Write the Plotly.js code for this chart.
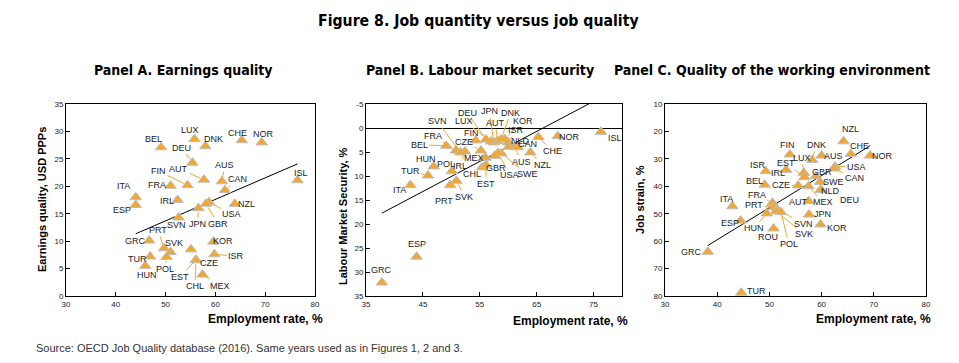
<!DOCTYPE html>
<html><head><meta charset="utf-8">
<script src="https://cdn.plot.ly/plotly-3.0.1.min.js"></script>
<style>html,body{margin:0;padding:0;background:#fff}#chart{width:959px;height:363px}</style>
</head><body><div id="chart"></div>
<script>
// ---------- Panel A: Earnings quality ----------
const countriesA = ["LUX","BEL","DNK","CHE","NOR","DEU","AUS","AUT","FIN","FRA","CAN","ISL","ITA","ESP","IRL","NZL","USA","GBR","JPN","SVN","GRC","KOR","SVK","PRT","ISR","TUR","POL","HUN","CZE","EST","CHL","MEX"];
const employmentA = [55.8,49.1,58.0,65.3,69.3,55.4,61.3,57.7,54.4,51.0,61.9,76.5,44.0,44.0,52.4,63.9,58.7,58.1,56.6,52.6,46.7,59.6,51.0,49.7,59.8,46.9,50.2,45.9,55.1,56.1,56.1,57.4];
const earningsA   = [28.6,27.1,27.3,28.4,28.0,24.3,20.9,21.2,20.2,20.1,19.3,21.1,18.0,16.6,17.5,16.8,17.1,16.8,16.0,14.3,10.1,9.9,8.0,8.7,7.6,7.2,7.1,5.5,8.5,6.6,6.5,3.9];
const trendA = {slope: 0.392, intercept: -5.9};

// ---------- Panel B: Labour market security ----------
const countriesB = ["GRC","ESP","ITA","TUR","HUN","POL","IRL","PRT","SVK","BEL","FRA","SVN","CZE","MEX","FIN","DEU","LUX","JPN","AUT","DNK","KOR","ISR","NLD","AUS","CAN","CHE","NOR","ISL","NZL","SWE","USA","GBR","CHL","EST"];
const employmentB = [37.8,43.9,42.8,45.9,46.9,50.1,52.4,49.8,50.9,49.1,50.8,51.6,55.2,56.0,54.3,56.1,57.0,57.5,58.1,58.7,59.4,60.0,60.1,61.1,61.7,65.3,68.7,76.3,63.9,58.8,58.2,57.6,55.4,56.1];
const securityB   = [32.2,26.8,11.9,9.9,8.0,9.0,4.9,11.9,11.0,3.7,4.7,5.1,4.7,6.2,2.6,2.4,2.8,3.0,2.7,2.4,2.3,3.0,3.9,3.9,4.0,1.9,1.7,0.8,5.1,5.3,5.2,5.8,8.2,7.7];
const trendB = {slope: -0.626, intercept: 41.4};

// ---------- Panel C: Quality of the working environment ----------
const countriesC = ["NZL","CHE","NOR","FIN","DNK","AUS","LUX","EST","ISR","IRL","GBR","USA","CAN","SWE","DEU","NLD","BEL","CZE","MEX","AUT","FRA","ITA","PRT","SVN","SVK","POL","HUN","ROU","JPN","KOR","ESP","GRC","TUR"];
const employmentC = [64.2,65.6,69.3,53.9,58.2,60.0,56.6,56.7,49.3,53.2,58.9,62.6,62.4,59.7,59.9,59.8,49.1,55.5,57.5,57.5,50.6,42.9,50.9,51.5,51.3,52.2,49.5,50.8,57.6,59.8,44.5,38.2,44.6];
const strainC     = [23.6,28.2,28.8,28.4,30.4,28.8,35.1,36.7,34.5,34.0,36.3,32.8,33.5,38.4,41.2,41.3,39.4,39.7,40.0,45.4,46.0,47.3,47.6,48.5,49.1,49.4,49.9,55.4,50.3,53.9,52.5,63.9,78.8];
const trendC = {slope: -1.170, intercept: 106.3};

// ---------- Tick labels ----------
const xTicksA = [30,40,50,60,70,80];
const yTicksA = [0,5,10,15,20,25,30,35];
const xTicksB = [35,45,55,65,75];
const yTicksB = [-5,0,5,10,15,20,25,30,35];
const xTicksC = [30,40,50,60,70,80];
const yTicksC = [10,20,30,40,50,60,70,80];

// ---------- Label placement (pixel offsets dx, dy, leader flag) ----------
const labelPosA = {LUX:[-4,-9,0],BEL:[-8,-8,0],DNK:[8,-7,0],CHE:[-4,-7,0],NOR:[2,-8,0],DEU:[-11,-15,1],AUS:[3,-16,1],AUT:[-25,-11,1],FIN:[-29,-14,1],FRA:[-14,-1,0],CAN:[13,-11,1],ISL:[3,-7,0],ITA:[-12,-11,0],ESP:[-14,5,0],IRL:[-11,1,0],NZL:[12,0,0],USA:[23,12,1],GBR:[12,20,1],JPN:[-1,16,1],SVN:[-2,7,0],PRT:[-6,-18,1],GRC:[-14,0,0],SVK:[3,-9,0],KOR:[10,-1,0],ISR:[22,2,1],TUR:[-13,2,0],POL:[-2,12,1],HUN:[2,9,0],CZE:[18,14,1],EST:[-16,17,1],CHL:[-1,26,1],MEX:[18,11,1]};
const labelPosB = {GRC:[0,-13,0],ESP:[0,-13,0],ITA:[-11,5,0],TUR:[-18,-5,1],HUN:[-8,-7,0],POL:[-6,-7,0],IRL:[-5,14,1],PRT:[-6,16,0],SVK:[8,16,1],BEL:[-27,-1,1],FRA:[-23,-15,1],SVN:[-23,-31,1],CZE:[-17,-9,1],MEX:[-11,0,0],FIN:[-4,-7,0],DEU:[-19,-27,1],LUX:[-27,-20,1],JPN:[-5,-31,1],AUT:[-2,-18,1],DNK:[10,-27,1],KOR:[18,-18,1],ISR:[8,-12,1],NLD:[12,-6,0],CAN:[10,-3,0],AUS:[7,15,1],CHE:[14,14,1],NOR:[12,1,0],ISL:[14,6,0],NZL:[12,13,1],SWE:[26,21,1],USA:[12,22,1],GBR:[1,12,0],CHL:[-10,7,1],EST:[0,19,1]};
const labelPosC = {NZL:[7,-12,0],CHE:[9,-8,0],NOR:[12,0,0],FIN:[-2,-9,0],DNK:[4,-15,1],AUS:[12,0,0],LUX:[-2,-15,1],EST:[-18,-14,1],ISR:[-8,-6,0],IRL:[-8,3,0],GBR:[6,-4,0],USA:[21,0,1],CAN:[20,10,1],SWE:[13,0,0],DEU:[28,10,0],NLD:[10,1,0],BEL:[-10,-4,0],CZE:[-17,0,1],MEX:[14,16,1],AUT:[-10,1,0],FRA:[-16,-8,1],ITA:[-6,-7,0],PRT:[-20,-2,1],SVN:[26,14,1],SVK:[28,23,1],POL:[8,32,1],HUN:[-13,15,1],ROU:[-6,8,0],JPN:[13,-1,0],KOR:[16,4,0],ESP:[-11,2,0],GRC:[-16,0,0],TUR:[15,-2,0]};

// ---------- Styles ----------
const ORANGE = "#F0A830";
const NARROW = "'Liberation Sans Narrow','DejaVu Sans Condensed','Arial Narrow',sans-serif";
const SANS = "'Liberation Sans',Arial,Helvetica,sans-serif";
const W = 959, H = 363;

function pointTrace(x, y, names, xa, ya) {
  return {type:"scatter", mode:"markers", x:x, y:y, text:names, xaxis:xa, yaxis:ya,
    cliponaxis:false, hoverinfo:"text",
    marker:{symbol:"triangle-up", size:10, color:ORANGE, line:{color:"#BDBDBD", width:1}}};
}
function trendTrace(x, tr, xa, ya) {
  const x0 = Math.min(...x), x1 = Math.max(...x);
  return {type:"scatter", mode:"lines", x:[x0,x1], y:[tr.intercept+tr.slope*x0, tr.intercept+tr.slope*x1],
    xaxis:xa, yaxis:ya, line:{color:"#000", width:1}, hoverinfo:"skip"};
}
function labels(names, x, y, pos, xr, yr) {
  return names.map((n,i) => {
    const p = pos[n] || [0,-10,0];
    const base = {x:x[i], y:y[i], xref:xr, yref:yr, text:n,
      font:{family:SANS, size:9, color:"#1a1a1a"}};
    if (p[2]) {
      return Object.assign(base, {showarrow:true, ax:p[0], ay:p[1], axref:"pixel", ayref:"pixel",
        arrowhead:0, arrowwidth:1, arrowcolor:ORANGE, standoff:4, startstandoff:0});
    }
    return Object.assign(base, {showarrow:false, xshift:p[0], yshift:-p[1]});
  });
}
function axis(domain, range, ticks, anchor, zero) {
  return {domain:domain, range:range, anchor:anchor, tickmode:"array", tickvals:ticks,
    ticktext:ticks.map(String),
    showline:true, linecolor:"#000", linewidth:1, mirror:true, showgrid:false,
    zeroline:!!zero, zerolinecolor:"#000", zerolinewidth:1,
    ticks:"inside", ticklen:4, tickwidth:1, tickcolor:"#000",
    tickfont:{family:SANS, size:8, color:"#222"}, fixedrange:true};
}
const yDom = [(H-296)/H, (H-104)/H];
const px = v => v/W, py = v => (H-v)/H;

const data = [
  trendTrace(employmentA, trendA, "x", "y"),
  pointTrace(employmentA, earningsA, countriesA, "x", "y"),
  trendTrace(employmentB, trendB, "x2", "y2"),
  pointTrace(employmentB, securityB, countriesB, "x2", "y2"),
  trendTrace(employmentC, trendC, "x3", "y3"),
  pointTrace(employmentC, strainC, countriesC, "x3", "y3")
];

function paperText(text, x, y, opts) {
  return Object.assign({text:text, x:px(x), y:py(y), xref:"paper", yref:"paper", showarrow:false,
    xanchor:"center", yanchor:"middle"}, opts);
}
const titleFont = {family:NARROW, size:15.7, color:"#000", weight:"bold"};
const panelFont = {family:NARROW, size:14, color:"#000", weight:"bold"};
const axFont = {family:SANS, size:11, color:"#000", weight:"bold"};
const xtFont = {family:SANS, size:12, color:"#000", weight:"bold"};

const annotations = [
  paperText("<b>Figure 8. Job quantity versus job quality</b>", 478, 20, {font:titleFont}),
  paperText("<b>Panel A. Earnings quality</b>", 183, 70, {font:panelFont}),
  paperText("<b>Panel B. Labour market security</b>", 480, 70, {font:panelFont}),
  paperText("<b>Panel C. Quality of the working environment</b>", 772, 70, {font:panelFont}),
  paperText("<b>Earnings quality, USD PPPs</b>", 42, 200, {font:axFont, textangle:-90}),
  paperText("<b>Labour Market Security, %</b>", 343, 216, {font:axFont, textangle:-90}),
  paperText("<b>Job strain, %</b>", 640, 200, {font:axFont, textangle:-90}),
  paperText("<b>Employment rate, %</b>", 325, 319, {font:xtFont, xanchor:"right"}),
  paperText("<b>Employment rate, %</b>", 630, 321, {font:xtFont, xanchor:"right"}),
  paperText("<b>Employment rate, %</b>", 933, 319, {font:xtFont, xanchor:"right"}),
  paperText("Source: OECD Job Quality database (2016). Same years used as in Figures 1, 2 and 3.", 34, 348,
    {font:{family:SANS, size:11, color:"#333"}, xanchor:"left"})
].concat(
  labels(countriesA, employmentA, earningsA, labelPosA, "x", "y"),
  labels(countriesB, employmentB, securityB, labelPosB, "x2", "y2"),
  labels(countriesC, employmentC, strainC, labelPosC, "x3", "y3")
);

const layout = {
  width:W, height:H, margin:{l:0,r:0,t:0,b:0}, showlegend:false,
  paper_bgcolor:"#fff", plot_bgcolor:"#fff",
  xaxis:  axis([px(66), px(315)], [30,80], xTicksA, "y"),
  yaxis:  axis(yDom, [0,35], yTicksA, "x"),
  xaxis2: axis([px(366), px(622)], [35,80], xTicksB, "y2"),
  yaxis2: axis(yDom, [35,-5], yTicksB, "x2", true),
  xaxis3: axis([px(665), px(926)], [30,80], xTicksC, "y3"),
  yaxis3: axis(yDom, [80,10], yTicksC, "x3"),
  annotations:annotations
};
Plotly.newPlot("chart", data, layout, {staticPlot:true, displayModeBar:false});
</script></body></html>
